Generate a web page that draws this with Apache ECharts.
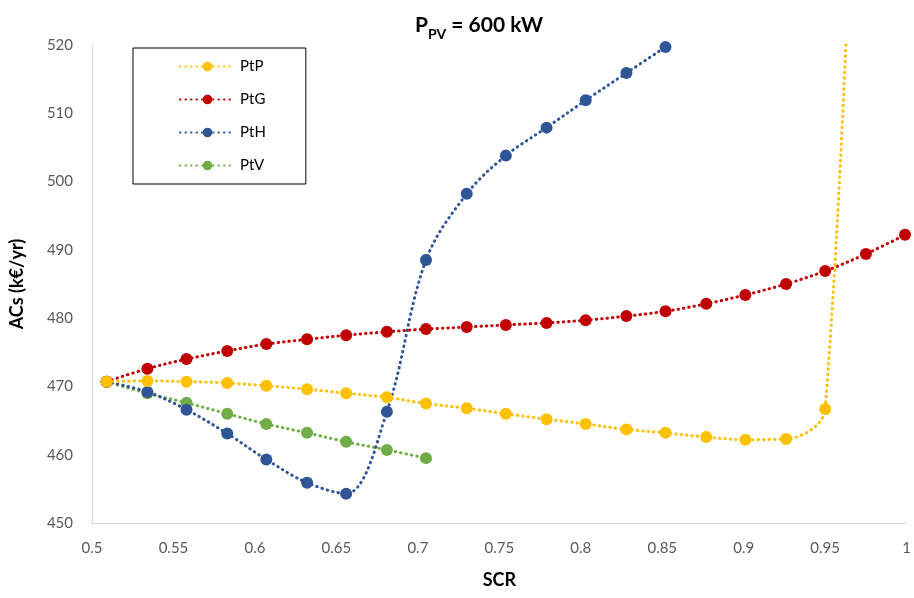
<!DOCTYPE html>
<html>
<head>
<meta charset="utf-8">
<script src="https://cdn.jsdelivr.net/npm/echarts@6/dist/echarts.min.js"></script>
<style>html,body{margin:0;padding:0;background:#fff;}#c{width:914px;height:598px;}</style>
</head>
<body>
<div id="c"></div>
<script>
// SCR (x) values shared by the series
const scr = [0.509, 0.534, 0.558, 0.583, 0.607, 0.632, 0.656, 0.681, 0.705, 0.730, 0.754,
             0.779, 0.803, 0.828, 0.852, 0.877, 0.901, 0.926, 0.950, 0.975, 0.999];
// ACs (k€/yr)
const ptP = [470.7, 470.8, 470.7, 470.5, 470.1, 469.6, 469.0, 468.4, 467.5, 466.8, 466.0,
             465.2, 464.5, 463.7, 463.2, 462.6, 462.2, 462.3, 466.7, 610.0];
const ptG = [470.7, 472.6, 474.0, 475.2, 476.2, 476.9, 477.5, 478.0, 478.4, 478.7, 479.0,
             479.3, 479.7, 480.3, 481.0, 482.1, 483.4, 485.0, 486.9, 489.4, 492.2];
const ptH = [470.7, 469.2, 466.6, 463.1, 459.3, 455.9, 454.3, 466.3, 488.5, 498.2, 503.8,
             507.9, 511.9, 515.9, 519.7];
const ptV = [470.7, 469.0, 467.6, 466.0, 464.5, 463.2, 461.9, 460.7, 459.5];
const seriesNames = ['PtP', 'PtG', 'PtH', 'PtV'];
const seriesColors = ['#FFC000', '#C00000', '#2F5597', '#70AD47'];
const xTicks = {min: 0.5, max: 1, step: 0.05};
const yTicks = {min: 450, max: 520, step: 10};

const FONT = 'Lato, "Open Sans", sans-serif';
function pairs(ys) { return ys.map((y, i) => [scr[i], y]); }
const allData = [ptP, ptG, ptH, ptV];

const chart = echarts.init(document.getElementById('c'), null, {renderer: 'canvas'});
chart.setOption({
  animation: false,
  backgroundColor: '#fff',
  title: {
    text: '{a|P}{b|PV}{a| = 600 kW}',
    left: 474, top: 10, textAlign: 'center',
    textStyle: {
      rich: {
        a: {fontFamily: FONT, fontSize: 21, fontWeight: 'bold', color: '#000', padding: [0, 0, 5, 0]},
        b: {fontFamily: FONT, fontSize: 14, fontWeight: 'bold', color: '#000', verticalAlign: 'bottom'}
      }
    }
  },
  legend: {
    orient: 'vertical', left: 133, top: 48,
    data: seriesNames,
    itemWidth: 55, itemHeight: 12, itemGap: 18,
    padding: [11, 40, 11, 46],
    borderColor: '#000', borderWidth: 1,
    textStyle: {fontFamily: FONT, fontSize: 15, color: '#000'}
  },
  grid: {left: 92, right: 1, top: 45, bottom: 75, containLabel: false},
  xAxis: {
    type: 'value', min: xTicks.min, max: xTicks.max, interval: xTicks.step,
    name: 'SCR', nameLocation: 'middle', nameGap: 48,
    nameTextStyle: {fontFamily: FONT, fontSize: 18, fontWeight: 'bold', color: '#000'},
    axisLine: {show: true, lineStyle: {color: '#d9d9d9', width: 1}},
    axisTick: {show: false}, splitLine: {show: false},
    axisLabel: {fontFamily: FONT, fontSize: 15, color: '#595959', margin: 18}
  },
  yAxis: {
    type: 'value', min: yTicks.min, max: yTicks.max, interval: yTicks.step,
    name: 'ACs (k€/yr)', nameLocation: 'middle', nameGap: 66, nameRotate: 90,
    nameTextStyle: {fontFamily: FONT, fontSize: 18, fontWeight: 'bold', color: '#000'},
    axisLine: {show: true, lineStyle: {color: '#d9d9d9', width: 1}},
    axisTick: {show: false}, splitLine: {show: false},
    axisLabel: {fontFamily: FONT, fontSize: 15, color: '#595959', margin: 19}
  },
  series: seriesNames.map((n, k) => ({
    name: n, type: 'line', data: pairs(allData[k]),
    smooth: 0.35, clip: true,
    symbol: 'circle', symbolSize: 12,
    itemStyle: {color: seriesColors[k]},
    lineStyle: {color: seriesColors[k], width: 3, type: [0.5, 5], cap: 'round'},
    z: 10 - k
  }))
});
</script>
</body>
</html>
